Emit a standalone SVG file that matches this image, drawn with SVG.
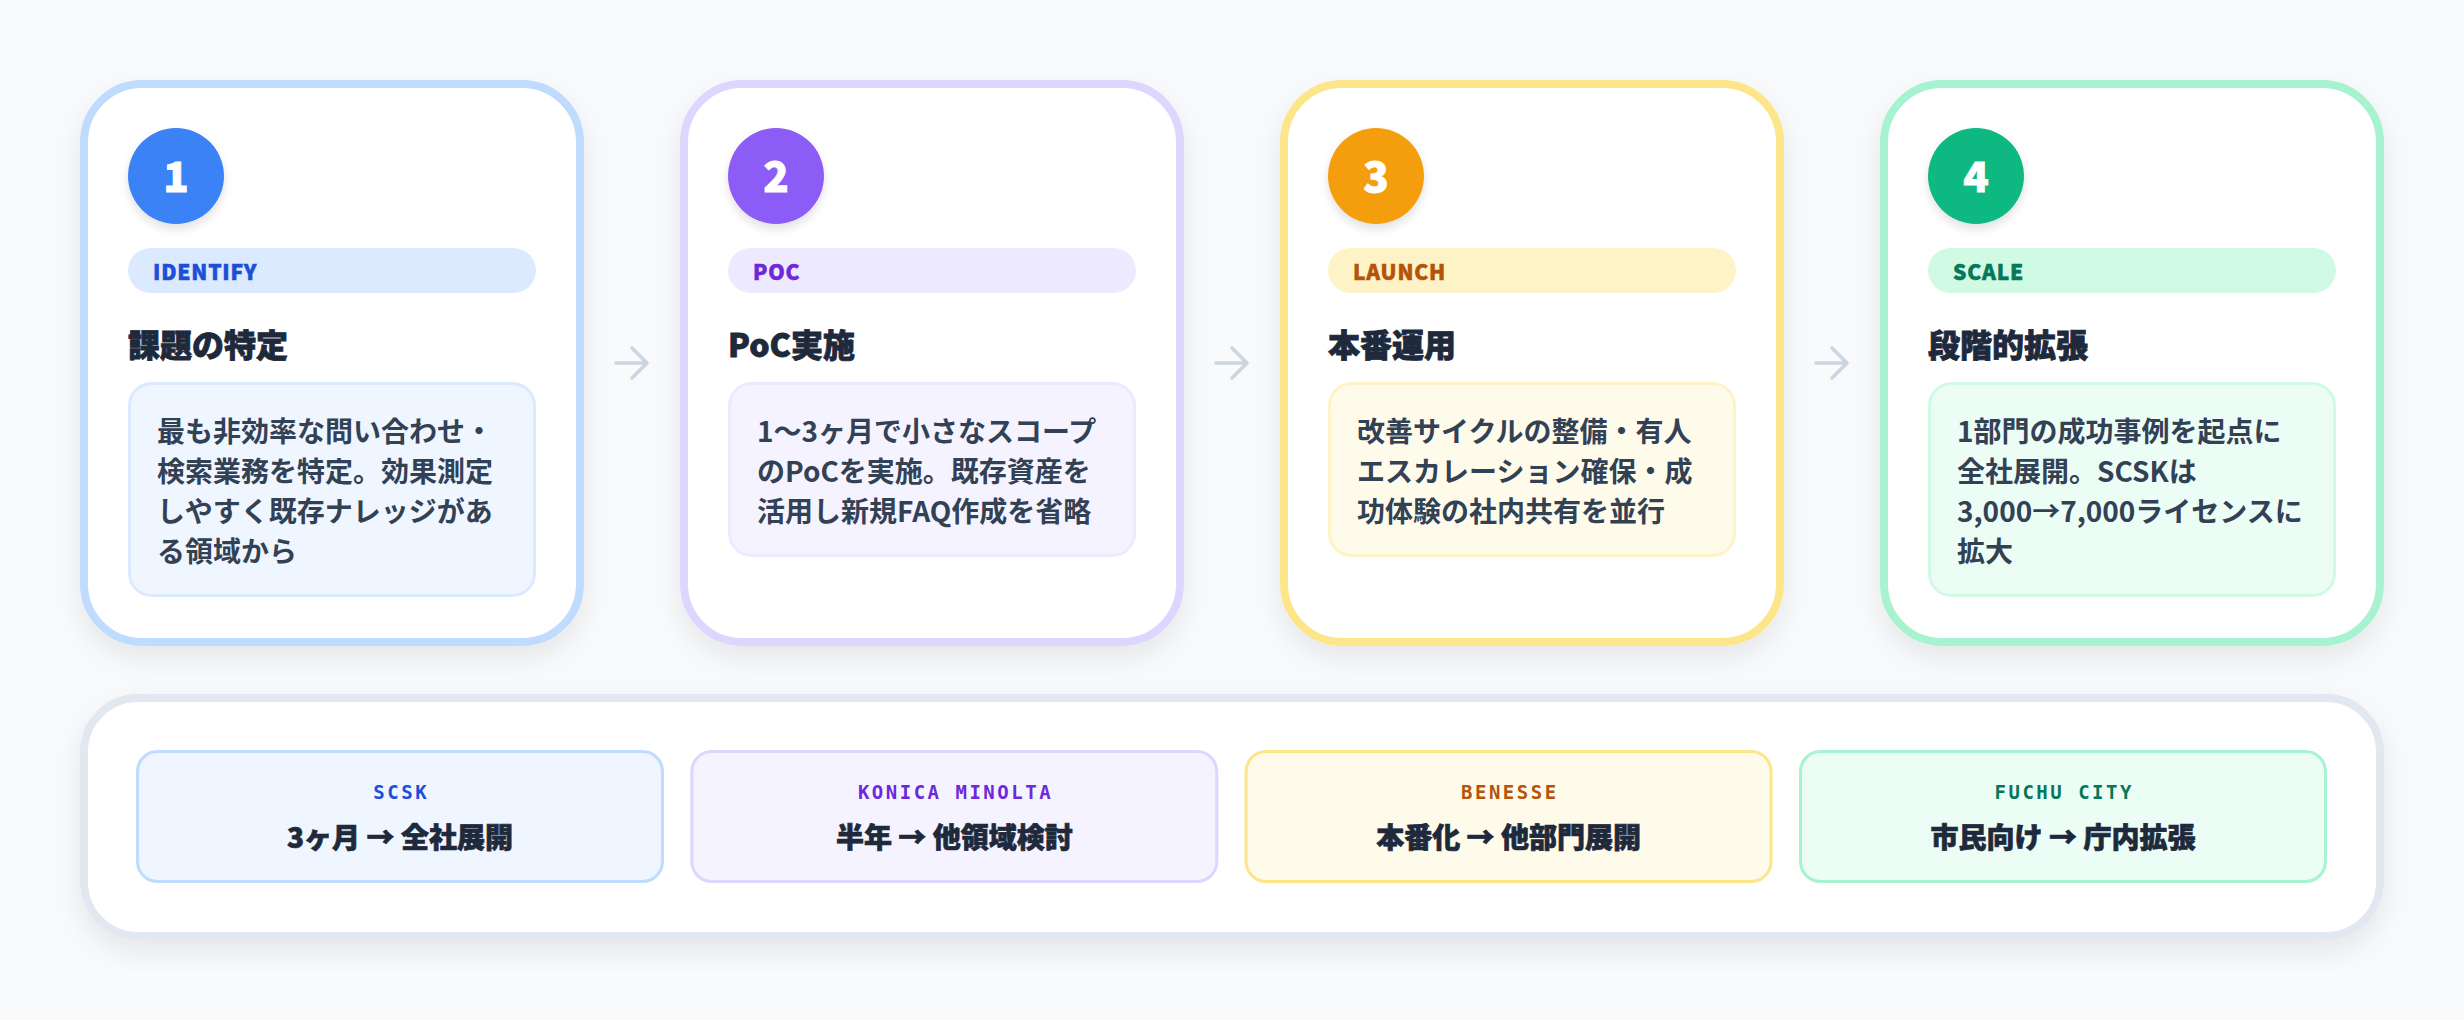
<svg xmlns="http://www.w3.org/2000/svg" width="2464" height="1020" viewBox="0 0 2464 1020">
<defs>
<filter id="cardShadow" x="-10%" y="-10%" width="120%" height="125%">
<feDropShadow dx="0" dy="12" stdDeviation="14" flood-color="#0f172a" flood-opacity="0.08"/>
</filter>
<filter id="circleShadow" x="-30%" y="-30%" width="160%" height="170%">
<feDropShadow dx="0" dy="5" stdDeviation="5" flood-color="#0f172a" flood-opacity="0.12"/>
</filter>
<style>
.card{fill:#ffffff;stroke-width:8}
.num{font-family:"Noto Sans CJK JP","Noto Sans",sans-serif;font-weight:900;font-size:42px;fill:#ffffff;stroke:#ffffff;stroke-width:0.8px;text-anchor:middle}
.tag{font-family:"Noto Sans CJK JP","Noto Sans",sans-serif;font-weight:900;font-size:21px;letter-spacing:0.8px;stroke-width:0.5px}
.title{font-family:"Noto Sans CJK JP","Noto Sans",sans-serif;font-weight:900;font-size:32px;fill:#1e293b;stroke:#1e293b;stroke-width:0.8px}
.desc{font-family:"Noto Sans CJK JP","Noto Sans",sans-serif;font-weight:700;font-size:28px;fill:#334155}
.dbox{stroke-width:3}
.lbl{font-family:"DejaVu Sans Mono","Liberation Mono",monospace;font-weight:700;font-size:19px;letter-spacing:2.5px;text-anchor:middle}
.res{font-family:"Noto Sans CJK JP","Noto Sans",sans-serif;font-weight:900;font-size:28px;fill:#1e293b;stroke:#1e293b;stroke-width:0.7px;text-anchor:middle}
.conn{fill:none;stroke:#cbd5e1;stroke-width:3.5;stroke-linecap:round;stroke-linejoin:round}
</style>
</defs>
<rect x="0" y="0" width="2464" height="1020" fill="#f8fafc"/>

<g id="step1">
<rect class="card" x="84" y="84" width="496" height="558" rx="58" stroke="#bfdbfe" filter="url(#cardShadow)"/>
<circle cx="176" cy="176" r="48" fill="#3b82f6" filter="url(#circleShadow)"/>
<text class="num" x="176" y="191.5">1</text>
<rect x="128" y="248" width="408" height="45" rx="22.5" fill="#dbeafe"/>
<text class="tag" x="153" y="280" fill="#1d4ed8" stroke="#1d4ed8">IDENTIFY</text>
<text class="title" x="128" y="357">課題の特定</text>
<rect class="dbox" x="129.5" y="383.5" width="405" height="212" rx="22" fill="#eff6ff" stroke="#dbeafe"/>
<text class="desc" x="157" y="442">最も非効率な問い合わせ・</text>
<text class="desc" x="157" y="482">検索業務を特定。効果測定</text>
<text class="desc" x="157" y="522">しやすく既存ナレッジがあ</text>
<text class="desc" x="157" y="562">る領域から</text>
</g>

<g id="step2">
<rect class="card" x="684" y="84" width="496" height="558" rx="58" stroke="#ddd6fe" filter="url(#cardShadow)"/>
<circle cx="776" cy="176" r="48" fill="#8b5cf6" filter="url(#circleShadow)"/>
<text class="num" x="776" y="191.5">2</text>
<rect x="728" y="248" width="408" height="45" rx="22.5" fill="#ede9fe"/>
<text class="tag" x="753" y="280" fill="#6d28d9" stroke="#6d28d9">POC</text>
<text class="title" x="728" y="357">PoC実施</text>
<rect class="dbox" x="729.5" y="383.5" width="405" height="172" rx="22" fill="#f5f3ff" stroke="#ede9fe"/>
<text class="desc" x="757" y="442">1〜3ヶ月で小さなスコープ</text>
<text class="desc" x="757" y="482">のPoCを実施。既存資産を</text>
<text class="desc" x="757" y="522">活用し新規FAQ作成を省略</text>
</g>

<g id="step3">
<rect class="card" x="1284" y="84" width="496" height="558" rx="58" stroke="#fde68a" filter="url(#cardShadow)"/>
<circle cx="1376" cy="176" r="48" fill="#f59e0b" filter="url(#circleShadow)"/>
<text class="num" x="1376" y="191.5">3</text>
<rect x="1328" y="248" width="408" height="45" rx="22.5" fill="#fef3c7"/>
<text class="tag" x="1353" y="280" fill="#b45309" stroke="#b45309">LAUNCH</text>
<text class="title" x="1328" y="357">本番運用</text>
<rect class="dbox" x="1329.5" y="383.5" width="405" height="172" rx="22" fill="#fffbeb" stroke="#fef3c7"/>
<text class="desc" x="1357" y="442">改善サイクルの整備・有人</text>
<text class="desc" x="1357" y="482">エスカレーション確保・成</text>
<text class="desc" x="1357" y="522">功体験の社内共有を並行</text>
</g>

<g id="step4">
<rect class="card" x="1884" y="84" width="496" height="558" rx="58" stroke="#a7f3d0" filter="url(#cardShadow)"/>
<circle cx="1976" cy="176" r="48" fill="#10b981" filter="url(#circleShadow)"/>
<text class="num" x="1976" y="191.5">4</text>
<rect x="1928" y="248" width="408" height="45" rx="22.5" fill="#d1fae5"/>
<text class="tag" x="1953" y="280" fill="#047857" stroke="#047857">SCALE</text>
<text class="title" x="1928" y="357">段階的拡張</text>
<rect class="dbox" x="1929.5" y="383.5" width="405" height="212" rx="22" fill="#ecfdf5" stroke="#d1fae5"/>
<text class="desc" x="1957" y="442">1部門の成功事例を起点に</text>
<text class="desc" x="1957" y="482">全社展開。SCSKは</text>
<text class="desc" x="1957" y="522">3,000→7,000ライセンスに</text>
<text class="desc" x="1957" y="562">拡大</text>
</g>

<g id="connectors">
<path class="conn" d="M616 363 H647 M632 348 L647 363 L632 378"/>
<path class="conn" d="M1216 363 H1247 M1232 348 L1247 363 L1232 378"/>
<path class="conn" d="M1816 363 H1847 M1832 348 L1847 363 L1832 378"/>
</g>

<g id="results">
<rect x="84" y="698" width="2296" height="238" rx="54" fill="#ffffff" stroke="#e2e8f0" stroke-width="8" filter="url(#cardShadow)"/>
<g id="res-scsk">
<rect x="137.5" y="751.5" width="525" height="130" rx="20" fill="#eff6ff" stroke="#bfdbfe" stroke-width="3"/>
<text class="lbl" x="401.2" y="799" fill="#1d4ed8">SCSK</text>
<text class="res" x="400" y="848">3ヶ月 → 全社展開</text>
</g>
<g id="res-konica">
<rect x="691.8" y="751.5" width="525" height="130" rx="20" fill="#f5f3ff" stroke="#ddd6fe" stroke-width="3"/>
<text class="lbl" x="955.5" y="799" fill="#6d28d9">KONICA MINOLTA</text>
<text class="res" x="954.3" y="848">半年 → 他領域検討</text>
</g>
<g id="res-benesse">
<rect x="1246.1" y="751.5" width="525" height="130" rx="20" fill="#fffbeb" stroke="#fde68a" stroke-width="3"/>
<text class="lbl" x="1509.8" y="799" fill="#b45309">BENESSE</text>
<text class="res" x="1508.6" y="848">本番化 → 他部門展開</text>
</g>
<g id="res-fuchu">
<rect x="1800.5" y="751.5" width="525" height="130" rx="20" fill="#ecfdf5" stroke="#a7f3d0" stroke-width="3"/>
<text class="lbl" x="2064.2" y="799" fill="#047857">FUCHU CITY</text>
<text class="res" x="2063" y="848">市民向け → 庁内拡張</text>
</g>
</g>
</svg>
